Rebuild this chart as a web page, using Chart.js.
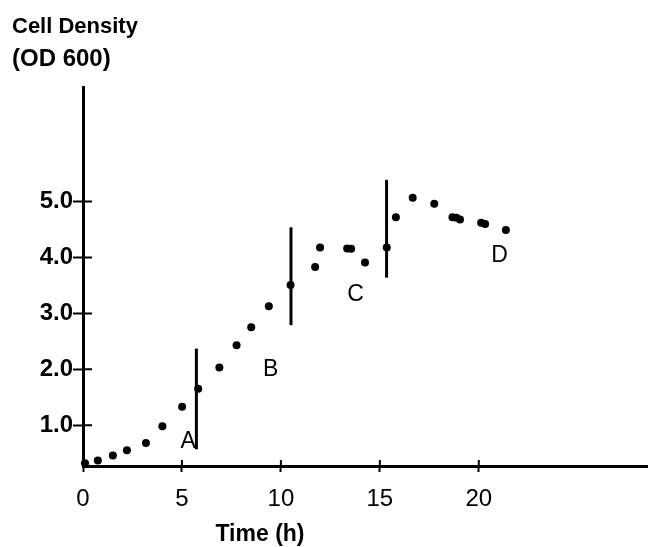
<!DOCTYPE html>
<html>
<head>
<meta charset="utf-8">
<script src="https://cdn.jsdelivr.net/npm/chart.js@4"></script>
<style>
    html, body { margin: 0; padding: 0; background: #fff; }
    #wrap { width: 651px; height: 547px; }
</style>
</head>
<body>
<div id="wrap"><canvas id="densityPlot" width="651" height="547"></canvas></div>
<script>
// growth curve
const timeH = [0.1, 0.75, 1.51, 2.22, 3.18, 4.01, 5.01, 5.82, 6.89, 7.76, 8.50, 9.39, 10.49,
    11.73, 11.98, 13.35, 13.55, 14.25, 15.35, 15.81, 16.66, 17.75, 18.67, 18.87, 19.05, 20.12, 20.32, 21.37]
const od600 = [0.32, 0.37, 0.46, 0.55, 0.68, 0.98, 1.33, 1.65, 2.03, 2.43, 2.75, 3.13, 3.51,
    3.83, 4.18, 4.16, 4.155, 3.91, 4.18, 4.72, 5.07, 4.96, 4.72, 4.71, 4.68, 4.62, 4.60, 4.49]

// vertical phase markers
const markerTimes = [5.73, 10.51, 15.34]
const markerLow = [0.57, 2.79, 3.64]
const markerHigh = [2.37, 4.54, 5.39]

// phase letters
const phaseLabels = ['A', 'B', 'C', 'D']
const phaseTime = [5.32, 9.48, 13.77, 21.05]
const phaseOD = [0.70, 1.99, 3.33, 4.03]

const xTicks = [0, 5, 10, 15, 20]
const yTicks = [1, 2, 3, 4, 5]

const FONT = '"Liberation Sans", Arial, sans-serif'

const markerSets = markerTimes.map((t, i) => ({
    data: [{x: t, y: markerLow[i]}, {x: t, y: markerHigh[i]}],
    showLine: true,
    borderColor: '#000',
    borderWidth: 3,
    pointRadius: 0,
    clip: false,
}))

const innerTicks = {
    id: 'innerTicks',
    afterDraw(chart) {
        const {ctx, chartArea, scales: {x, y}} = chart
        ctx.save()
        ctx.strokeStyle = '#000'
        ctx.lineWidth = 2
        ctx.beginPath()
        yTicks.forEach(v => {
            const py = y.getPixelForValue(v)
            ctx.moveTo(chartArea.left, py)
            ctx.lineTo(chartArea.left + 9, py)
        })
        xTicks.slice(1).forEach(v => {
            const px = x.getPixelForValue(v)
            ctx.moveTo(px, chartArea.bottom)
            ctx.lineTo(px, chartArea.bottom - 6)
        })
        ctx.stroke()
        ctx.restore()
    }
}

const textLayer = {
    id: 'textLayer',
    afterDraw(chart) {
        const {ctx, scales: {x, y}} = chart
        ctx.save()
        ctx.fillStyle = '#000'
        ctx.textAlign = 'left'
        ctx.textBaseline = 'alphabetic'
        ctx.font = 'bold 22px ' + FONT
        ctx.fillText('Cell Density', 12, 33)
        ctx.font = 'bold 24px ' + FONT
        ctx.fillText('(OD 600)', 12, 66)

        ctx.textAlign = 'center'
        ctx.font = 'bold 23px ' + FONT
        ctx.fillText('Time (h)', 260, 541)

        ctx.font = '23px ' + FONT
        ctx.textBaseline = 'middle'
        phaseLabels.forEach((l, i) => {
            ctx.fillText(l, x.getPixelForValue(phaseTime[i]), y.getPixelForValue(phaseOD[i]))
        })
        ctx.restore()
    }
}

new Chart(document.getElementById('densityPlot'), {
    type: 'scatter',
    data: {
        datasets: [{
            data: timeH.map((t, i) => ({x: t, y: od600[i]})),
            backgroundColor: '#000',
            borderColor: '#000',
            borderWidth: 0,
            pointRadius: 4,
            pointHoverRadius: 4,
            clip: false,
        }, ...markerSets]
    },
    options: {
        responsive: false,
        devicePixelRatio: 1,
        animation: false,
        layout: {padding: {top: 87, left: 0, right: 0, bottom: 0}},
        plugins: {legend: {display: false}, tooltip: {enabled: false}},
        scales: {
            x: {
                type: 'linear',
                min: 0,
                max: 28.5,
                afterBuildTicks: s => { s.ticks = xTicks.map(v => ({value: v})) },
                afterFit: s => { s.height = 81 },
                ticks: {
                    color: '#000',
                    font: {family: FONT, size: 24},
                    padding: 13,
                    maxRotation: 0,
                    autoSkip: false,
                    callback: v => String(v)
                },
                grid: {drawOnChartArea: false, drawTicks: true, tickLength: 6, tickWidth: 2, color: '#000'},
                border: {display: true, width: 3, color: '#000'}
            },
            y: {
                min: 0.27,
                max: 7.05,
                afterBuildTicks: s => { s.ticks = yTicks.map(v => ({value: v})) },
                afterFit: s => { s.width = 83 },
                ticks: {
                    color: '#000',
                    font: {family: FONT, size: 24, weight: 'bold'},
                    padding: 0,
                    autoSkip: false,
                    callback: v => v.toFixed(1)
                },
                grid: {drawOnChartArea: false, drawTicks: true, tickLength: 10, tickWidth: 2, color: '#000'},
                border: {display: true, width: 3, color: '#000'}
            }
        }
    },
    plugins: [innerTicks, textLayer]
})
</script>
</body>
</html>
